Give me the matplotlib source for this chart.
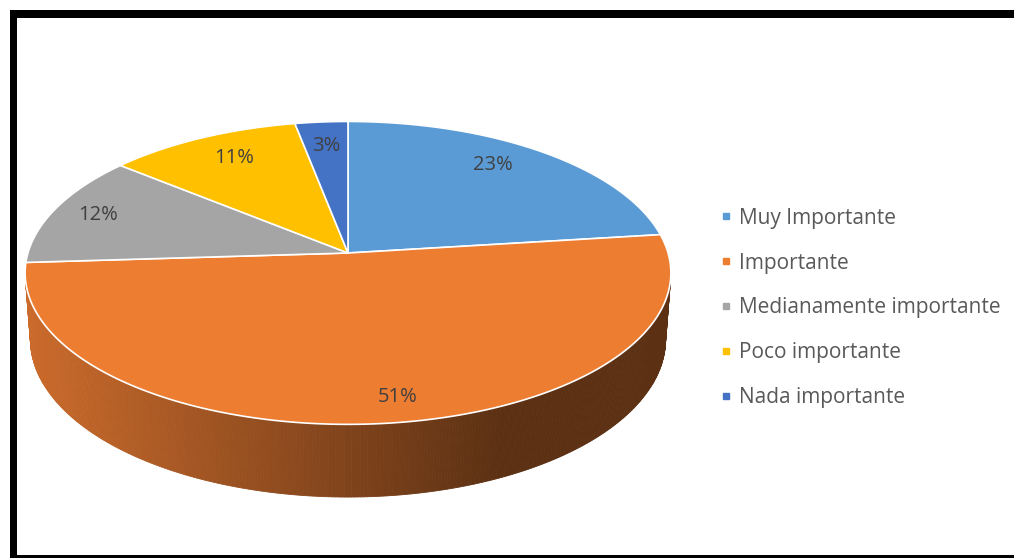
import numpy as np
import matplotlib
matplotlib.use("Agg")
import matplotlib.pyplot as plt
from matplotlib.patches import Polygon, Rectangle
from matplotlib.lines import Line2D

# ---- data ----
categories = ["Muy Importante", "Importante", "Medianamente importante",
              "Poco importante", "Nada importante"]
values = [23, 51, 12, 11, 3]
labels = ["23%", "51%", "12%", "11%", "3%"]
colors = ["#5B9BD5", "#ED7D31", "#A5A5A5", "#FFC000", "#4472C4"]

# ---- layout / projection parameters (pixels) ----
W, H = 1014, 558
CX, CY = 348, 253          # projected pie centre
SIN_T, COS_T = 0.465, 0.885
DIST = 6.73
FOC = 2154
DEPTH = 0.237
LABEL_R = [0.81, 0.87, 0.85, 0.80, 0.80]     # label distance from centre
LABEL_F = [0.45, 0.48, 0.50, 0.54, 0.50]     # label position within slice
FONT = "Open Sans"

def project(x, y, z):
    Yc = y * SIN_T + z * COS_T
    Zc = y * COS_T - z * SIN_T + DIST
    u = FOC * x / Zc
    v = FOC * Yc / Zc
    return CX + u, CY - v

fig = plt.figure(figsize=(W / 100, H / 100), dpi=100)
ax = fig.add_axes([0, 0, 1, 1])
ax.set_xlim(0, W)
ax.set_ylim(H, 0)
ax.axis("off")

fracs = np.array(values, dtype=float) / sum(values)
starts = 90 - 360 * np.concatenate([[0], np.cumsum(fracs)[:-1]])
ends = starts - 360 * fracs

def side_color(px):
    t = np.clip((px - 25) / (500 - 25), 0, 1)
    c0 = np.array([0.80, 0.42, 0.17])
    c1 = np.array([0.36, 0.19, 0.075])
    return c0 + (c1 - c0) * t

# visible side-wall range
lim = np.degrees(np.arcsin(-1 / (DIST * COS_T)))
vis_lo, vis_hi = -180 - lim, lim

for s, e, col in zip(starts, ends, colors):
    a0, a1 = e, s
    for off in (0, -360, 360):
        lo = max(a0 + off, vis_lo)
        hi = min(a1 + off, vis_hi)
        if hi <= lo:
            continue
        th = np.linspace(lo, hi, max(int((hi - lo) * 2), 2))
        for i in range(len(th) - 1):
            t0, t1 = np.radians(th[i]), np.radians(th[i + 1])
            p = [project(np.cos(t0), np.sin(t0), 0),
                 project(np.cos(t1), np.sin(t1), 0),
                 project(np.cos(t1), np.sin(t1), -DEPTH),
                 project(np.cos(t0), np.sin(t0), -DEPTH)]
            xm = np.mean([q[0] for q in p])
            c = side_color(xm)
            ax.add_patch(Polygon(p, closed=True, facecolor=c, edgecolor=c,
                                 lw=0.6, zorder=1))

# top faces
for s, e, col in zip(starts, ends, colors):
    th = np.radians(np.linspace(s, e, 200))
    pts = [(CX, CY)] + [project(np.cos(t), np.sin(t), 0) for t in th]
    ax.add_patch(Polygon(pts, closed=True, facecolor=col, edgecolor="white",
                         lw=1.2, zorder=2, joinstyle="round"))

# data labels
for s, e, lab, r, f in zip(starts, ends, labels, LABEL_R, LABEL_F):
    m = np.radians(s + (e - s) * f)
    x, y = project(r * np.cos(m), r * np.sin(m), 0)
    ax.text(x, y, lab, ha="center", va="center", fontsize=14.5,
            color="#404040", family=FONT, zorder=3)

# legend
handles = [Line2D([], [], marker="s", linestyle="none", markersize=5,
                  markerfacecolor=c, markeredgecolor=c) for c in colors]
leg = fig.legend(handles, categories, loc="center left",
                 bbox_to_anchor=(697 / W, 1 - 308 / H), frameon=False,
                 prop={"family": FONT, "size": 15}, labelspacing=1.15,
                 handletextpad=0.1, handlelength=1.0)
for t in leg.get_texts():
    t.set_color("#595959")

# frame
ax.add_patch(Rectangle((10, 10), W, 8, facecolor="black", edgecolor="none", zorder=5))
ax.add_patch(Rectangle((10, 10), 7, H, facecolor="black", edgecolor="none", zorder=5))
ax.add_patch(Rectangle((10, 555), W, 10, facecolor="black", edgecolor="none", zorder=5))

fig.savefig("out.png", dpi=100)
